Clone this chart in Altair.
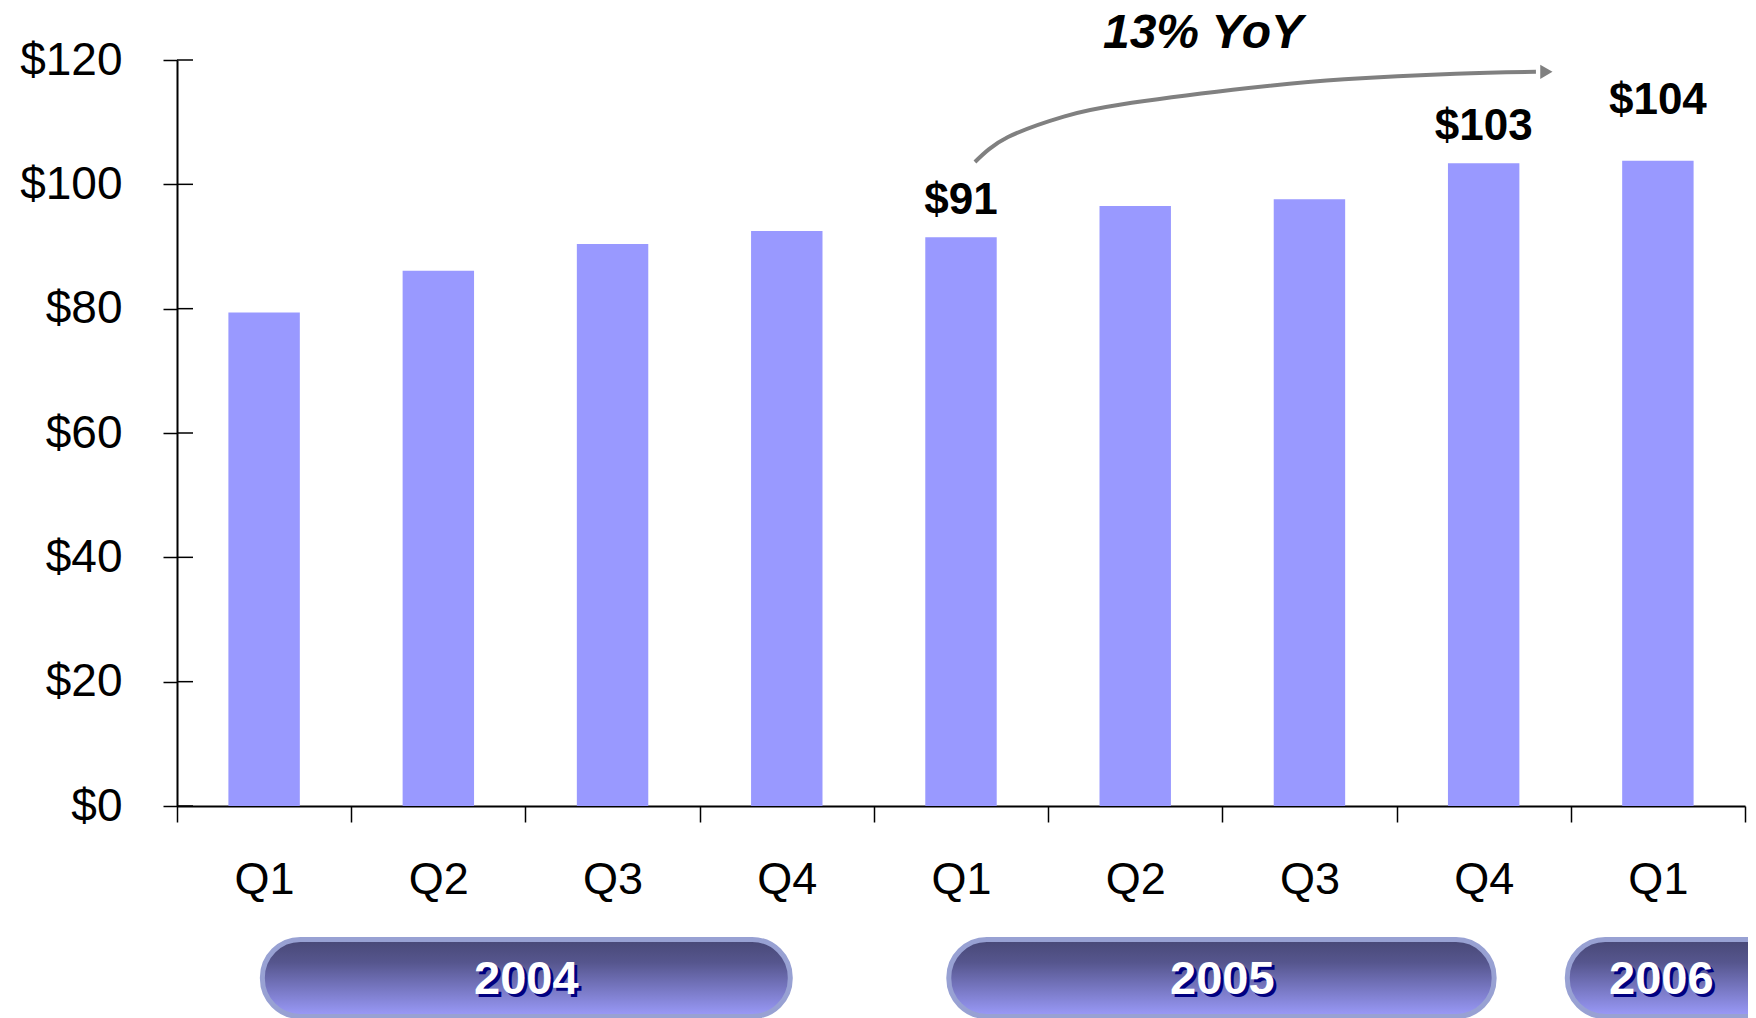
import altair as alt
import pandas as pd

# ---------------- data ----------------
quarters = ["Q1", "Q2", "Q3", "Q4", "Q1", "Q2", "Q3", "Q4", "Q1"]
years = ["2004", "2004", "2004", "2004", "2005", "2005", "2005", "2005", "2006"]
revenue = [79.4, 86.1, 90.4, 92.5, 91.5, 96.5, 97.6, 103.4, 103.8]
bar_labels = ["", "", "", "", "$91", "", "", "$103", "$104"]
y_ticks = [0, 20, 40, 60, 80, 100, 120]

growth_text = "13% YoY"
# arrow path, x in quarter-slot units (0..9), y in $ units
arrow_x = [4.58, 4.77, 5.09, 5.41, 6.06, 6.70, 7.34, 7.80]
arrow_y = [103.6, 107.6, 110.9, 112.8, 115.2, 116.9, 117.8, 118.1]
arrow_head_x = [7.86]
arrow_head_y = [118.1]

year_names = ["2004", "2005", "2006"]
year_start = [0.49, 4.43, 7.98]
year_end = [3.52, 7.56, 9.25]
year_label_x = [2.005, 6.0, 8.52]

# ---------------- frames ----------------
keys = [f"{q} {y}" for q, y in zip(quarters, years)]
df = pd.DataFrame({"key": keys, "revenue": revenue, "label": bar_labels})
df_lab_a = df[df["label"].isin(["$91", "$103"])]
df_lab_b = df[df["label"].isin(["$104"])]
ticks_df = pd.DataFrame({"v": y_ticks})
arrow_df = pd.DataFrame({"ax": arrow_x, "ay": arrow_y, "o": list(range(len(arrow_x)))})
head_df = pd.DataFrame({"ax": arrow_head_x, "ay": arrow_head_y})
years_df = pd.DataFrame({"year": year_names, "xs": year_start, "xe": year_end,
                         "xm": year_label_x})

W, H = 1568, 746
FONT = "Liberation Sans, Arial, Helvetica, sans-serif"

yscale = alt.Scale(domain=[0, 120], nice=False, zero=True)
xband = alt.Scale(type="band", domain=keys, paddingInner=0, paddingOuter=0)
xq = alt.Scale(domain=[0, 9], nice=False, zero=False)

bars = alt.Chart(df).mark_bar(color="#9999FF", width=alt.RelativeBandSize(0.41)).encode(
    x=alt.X("key:N", sort=keys, scale=xband, title=None,
            axis=alt.Axis(labelExpr="isString(datum.value) ? split(datum.value, ' ')[0] : ''",
                          labelAngle=0,
                          labelFont=FONT, labelFontSize=45, labelColor="black",
                          labelBaseline="middle", labelPadding=57,
                          tickBand="extent", tickSize=16, tickColor="black", tickWidth=1.5,
                          domainColor="black", domainWidth=2, grid=False)),
    y=alt.Y("revenue:Q", scale=yscale, title=None,
            axis=alt.Axis(values=y_ticks, labelExpr="'$' + datum.value",
                          labelFont=FONT, labelFontSize=46, labelColor="black",
                          labelPadding=41, tickSize=14, tickColor="black", tickWidth=1.5,
                          domainColor="black", domainWidth=2, grid=False)),
)

inner_ticks = alt.Chart(ticks_df).mark_rule(color="black", strokeWidth=1.5).encode(
    y=alt.Y("v:Q", scale=yscale),
    x=alt.value(0), x2=alt.value(16),
)

lab_a = alt.Chart(df_lab_a).mark_text(font=FONT, fontSize=44, fontWeight="bold",
                                      baseline="alphabetic", dy=-23, color="black").encode(
    x=alt.X("key:N", sort=keys, scale=xband, axis=None),
    y=alt.Y("revenue:Q", scale=yscale),
    text="label:N",
)
lab_b = alt.Chart(df_lab_b).mark_text(font=FONT, fontSize=44, fontWeight="bold",
                                      baseline="alphabetic", dy=-47, color="black").encode(
    x=alt.X("key:N", sort=keys, scale=xband, axis=None),
    y=alt.Y("revenue:Q", scale=yscale),
    text="label:N",
)

arrow = alt.Chart(arrow_df).mark_line(color="#808080", strokeWidth=4,
                                      interpolate="natural").encode(
    x=alt.X("ax:Q", scale=xq, axis=None),
    y=alt.Y("ay:Q", scale=yscale),
    order="o:Q",
)
head = alt.Chart(head_df).mark_point(shape="triangle-right", filled=True, size=200,
                                     color="#808080", opacity=1).encode(
    x=alt.X("ax:Q", scale=xq, axis=None),
    y=alt.Y("ay:Q", scale=yscale),
)

growth = alt.Chart(pd.DataFrame({"t": [growth_text]})).mark_text(
    font=FONT, fontSize=48, fontWeight="bold", fontStyle="italic", color="black",
    baseline="middle", align="center").encode(
    x=alt.value(1026), y=alt.value(-26), text="t:N")

grad = alt.LinearGradient(
    gradient="linear", x1=0, x2=0, y1=0, y2=1,
    stops=[alt.GradientStop(offset=0, color="#484876"),
           alt.GradientStop(offset=0.3, color="#56568e"),
           alt.GradientStop(offset=1, color="#9b9bfa")])

pills = alt.Chart(years_df).mark_rect(fill=grad, stroke="#98a1d3", strokeWidth=5,
                                      cornerRadius=38).encode(
    x=alt.X("xs:Q", scale=xq, axis=None),
    x2="xe:Q",
    y=alt.value(H + 133.5), y2=alt.value(H + 210.5),
)
year_shadow = alt.Chart(years_df).mark_text(font=FONT, fontSize=47, fontWeight="bold",
                                            color="#000080", baseline="middle", dx=3, dy=3).encode(
    x=alt.X("xm:Q", scale=xq, axis=None), y=alt.value(920), text="year:N")
year_text = alt.Chart(years_df).mark_text(font=FONT, fontSize=47, fontWeight="bold",
                                          color="white", baseline="middle").encode(
    x=alt.X("xm:Q", scale=xq, axis=None), y=alt.value(920), text="year:N")

chart = alt.layer(
    bars, inner_ticks, lab_a, lab_b, arrow, head, growth, pills, year_shadow, year_text
).resolve_scale(x="independent").properties(
    width=W, height=H,
    autosize=alt.AutoSizeParams(type="none"),
    padding={"left": 169, "top": 52, "right": 3, "bottom": 212},
    background="white",
).configure_view(stroke=None)

chart.save("out.html", embed_options={"renderer": "svg", "actions": False})
